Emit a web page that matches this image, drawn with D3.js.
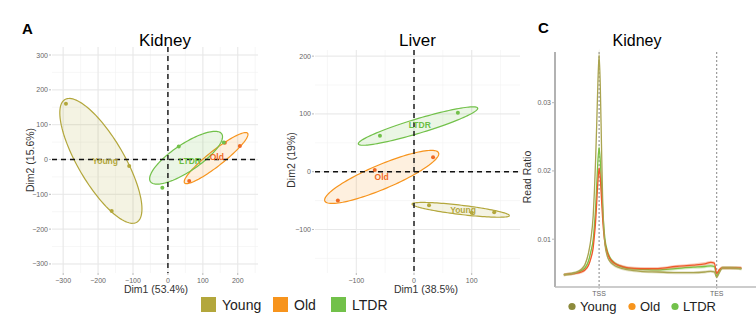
<!DOCTYPE html>
<meta charset="utf-8">
<style>
body { margin: 0; background: #fff; }
svg { font-family: "Liberation Sans", Arial, sans-serif; }
.grid-major { stroke: #e6e6e6; stroke-width: 0.9px; }
.grid-minor { stroke: #f1f1f1; stroke-width: 0.6px; }
.tick-lab { font-size: 7px; fill: #666; }
.ax-title { font-size: 10.5px; fill: #333; }
.zero { stroke: #111; stroke-width: 1.4px; stroke-dasharray: 5,4; }
</style>
<body>
<script src="https://cdn.jsdelivr.net/npm/d3@7"></script>
<script>
// groups and colours
var groups = ["Young", "Old", "LTDR"];
var pcaColors = { Young: "#b3a73c", Old: "#f7941d", LTDR: "#72c14a" };
var labelColors = { Young: "#b3a73c", Old: "#f06a24", LTDR: "#6cbf44" };

// PCA sample coordinates (Dim1, Dim2)
var kidneyYoung = [[-292, 160], [-111, -19], [-161, -148]];
var kidneyOld = [[163, 48], [206, 39], [61, -62]];
var kidneyLTDR = [[31, 37], [-16, -81], [160, 49]];
var liverYoung = [[26, -58], [100, -71], [139, -70]];
var liverOld = [[-68, 3], [-132, -50], [33, 25]];
var liverLTDR = [[-59, 62], [76, 102]];

// label positions (group centroids)
var kidneyLabels = { Young: [-180, -4], Old: [140, 8], LTDR: [63, -4] };
var liverLabels = { Young: [85, -66], Old: [-56, -9], LTDR: [10, 80] };

// ellipses: centre x, centre y, semi-axis a, semi-axis b, angle (deg)
var kidneyEll = { Young: [-192, -4, 204, 66, -59.7], Old: [138, 4, 115, 22, 38.3], LTDR: [52, 5, 123, 39, 33.9] };
var liverEll = { Young: [81, -66, 85, 8, -6.8], Old: [-56, -9, 107, 21, 22.9], LTDR: [7, 79, 108, 12.5, 16.7] };

var kidneyXTicks = [-300, -200, -100, 0, 100, 200];
var kidneyYTicks = [-300, -200, -100, 0, 100, 200, 300];
var liverXTicks = [-100, 0, 100];
var liverYTicks = [-100, 0, 100, 200];

// metagene profile (TSS = 0, TES = 100)
var profilePos = [-30,-25,-20,-15,-12,-9,-7,-5,-4,-3,-2,-1,0,1,2,3,4,5,7,9,12,16,20,25,35,50,65,80,90,95,98,100,102,105,112,121];
var profileYoung = [0.0048,0.0049,0.0051,0.0056,0.0063,0.0080,0.0100,0.0135,0.0170,0.0215,0.0270,0.0330,0.0370,0.0325,0.0240,0.0160,0.0115,0.0092,0.0075,0.0068,0.0063,0.0059,0.0057,0.0055,0.0053,0.0052,0.0051,0.0051,0.0052,0.0053,0.0052,0.0044,0.0050,0.0058,0.0058,0.0057];
var profileOld = [0.0048,0.0049,0.0050,0.0052,0.0055,0.0062,0.0072,0.0088,0.0105,0.0125,0.0155,0.0185,0.0204,0.0190,0.0160,0.0130,0.0108,0.0094,0.0080,0.0072,0.0066,0.0062,0.0060,0.0058,0.0057,0.0057,0.0060,0.0062,0.0064,0.0066,0.0065,0.0050,0.0055,0.0058,0.0058,0.0058];
var profileLTDR = [0.0048,0.0049,0.0051,0.0054,0.0058,0.0068,0.0082,0.0100,0.0120,0.0145,0.0180,0.0215,0.0234,0.0215,0.0180,0.0145,0.0118,0.0100,0.0083,0.0074,0.0067,0.0062,0.0059,0.0057,0.0056,0.0055,0.0057,0.0059,0.0060,0.0061,0.0060,0.0046,0.0053,0.0058,0.0058,0.0057];
var profileYTicks = [0.01, 0.02, 0.03];
var profileMarks = [[0, "TSS"], [100, "TES"]];
var lineColors = { Young: "#aaa450", Old: "#ef5a2a", LTDR: "#7cc242" };
var dotColors = { Young: "#8c8a3c", Old: "#f7941d", LTDR: "#72c14a" };

var svg = d3.select("body").append("svg")
    .attr("width", 756)
    .attr("height", 334);

// panel letters
svg.append("text").attr("x", 22).attr("y", 34).style("font-size", "15px").style("font-weight", "bold").text("A");
svg.append("text").attr("x", 538).attr("y", 33).style("font-size", "15px").style("font-weight", "bold").text("C");

function pcaPanel(opt) {
    var x = d3.scaleLinear().domain(opt.xDom).range([opt.left, opt.right]);
    var y = d3.scaleLinear().domain(opt.yDom).range([opt.bottom, opt.top]);
    var g = svg.append("g");

    // minor grid
    var step = opt.xTicks[1] - opt.xTicks[0];
    var xm = d3.range(Math.ceil(opt.xDom[0] / (step / 2)) * step / 2, opt.xDom[1], step / 2);
    var ym = d3.range(Math.ceil(opt.yDom[0] / (step / 2)) * step / 2, opt.yDom[1], step / 2);
    g.selectAll(".vm").data(xm).enter().append("line").attr("class", "grid-minor")
        .attr("x1", x).attr("x2", x).attr("y1", opt.top).attr("y2", opt.bottom);
    g.selectAll(".hm").data(ym).enter().append("line").attr("class", "grid-minor")
        .attr("y1", y).attr("y2", y).attr("x1", opt.left).attr("x2", opt.right);
    g.selectAll(".vg").data(opt.xTicks).enter().append("line").attr("class", "grid-major")
        .attr("x1", x).attr("x2", x).attr("y1", opt.top).attr("y2", opt.bottom);
    g.selectAll(".hg").data(opt.yTicks).enter().append("line").attr("class", "grid-major")
        .attr("y1", y).attr("y2", y).attr("x1", opt.left).attr("x2", opt.right);

    // ticks
    g.selectAll(".xt").data(opt.xTicks).enter().append("text").attr("class", "tick-lab")
        .attr("x", x).attr("y", opt.bottom + 10).attr("text-anchor", "middle")
        .text(function(d) { return d < 0 ? "\u2212" + (-d) : d; });
    g.selectAll(".xtm").data(opt.xTicks).enter().append("line")
        .attr("x1", x).attr("x2", x).attr("y1", opt.bottom).attr("y2", opt.bottom + 2)
        .attr("stroke", "#888").attr("stroke-width", 0.6);
    g.selectAll(".yt").data(opt.yTicks).enter().append("text").attr("class", "tick-lab")
        .attr("x", opt.left - 4).attr("y", function(d) { return y(d) + 2.5; }).attr("text-anchor", "end")
        .text(function(d) { return d < 0 ? "\u2212" + (-d) : d; });
    g.selectAll(".ytm").data(opt.yTicks).enter().append("line")
        .attr("y1", y).attr("y2", y).attr("x1", opt.left - 3).attr("x2", opt.left - 1)
        .attr("stroke", "#888").attr("stroke-width", 0.6);

    // titles
    g.append("text").attr("x", (opt.left + opt.right) / 2 + opt.titleDx).attr("y", 46)
        .attr("text-anchor", "middle").style("font-size", "17px").text(opt.title);
    g.append("text").attr("class", "ax-title").attr("x", opt.xTitleX).attr("y", 293)
        .attr("text-anchor", "middle").text(opt.xTitle);
    g.append("text").attr("class", "ax-title")
        .attr("transform", "translate(" + opt.yTitleX + ",160) rotate(-90)")
        .attr("text-anchor", "middle").text(opt.yTitle);

    // ellipses
    groups.forEach(function(k) {
        var e = opt.ell[k], a = e[4] * Math.PI / 180;
        var pts = d3.range(0, 2 * Math.PI + 0.01, Math.PI / 60).map(function(t) {
            var u = e[2] * Math.cos(t), v = e[3] * Math.sin(t);
            return [e[0] + u * Math.cos(a) - v * Math.sin(a), e[1] + u * Math.sin(a) + v * Math.cos(a)];
        });
        g.append("path").datum(pts)
            .attr("d", d3.line().x(function(d) { return x(d[0]); }).y(function(d) { return y(d[1]); }))
            .attr("fill", pcaColors[k]).attr("fill-opacity", 0.14)
            .attr("stroke", pcaColors[k]).attr("stroke-width", 1.2);
    });

    // zero lines
    g.append("line").attr("class", "zero").attr("x1", opt.left).attr("x2", opt.right).attr("y1", y(0)).attr("y2", y(0));
    g.append("line").attr("class", "zero").attr("x1", x(0)).attr("x2", x(0)).attr("y1", opt.top).attr("y2", opt.bottom);

    groups.forEach(function(k) {
        g.selectAll(null).data(opt.pts[k]).enter().append("circle")
            .attr("cx", function(d) { return x(d[0]); }).attr("cy", function(d) { return y(d[1]); })
            .attr("r", 2).attr("fill", k === "Old" ? labelColors.Old : pcaColors[k]);
        var l = opt.labels[k];
        g.append("text").attr("x", x(l[0])).attr("y", y(l[1]) + 3)
            .attr("text-anchor", "middle").style("font-size", "8.5px").style("font-weight", "bold")
            .attr("fill", labelColors[k]).text(k);
    });
}

pcaPanel({
    title: "Kidney", titleDx: 10, left: 52, right: 258, top: 47, bottom: 273,
    xDom: [-332, 258], yDom: [-326, 323], xTicks: kidneyXTicks, yTicks: kidneyYTicks,
    xTitle: "Dim1 (53.4%)", xTitleX: 156, yTitle: "Dim2 (15.6%)", yTitleX: 34,
    ell: kidneyEll, labels: kidneyLabels,
    pts: { Young: kidneyYoung, Old: kidneyOld, LTDR: kidneyLTDR }
});
pcaPanel({
    title: "Liver", titleDx: 0, left: 315, right: 520, top: 50, bottom: 273,
    xDom: [-171.6, 183.7], yDom: [-175.3, 210.6], xTicks: liverXTicks, yTicks: liverYTicks,
    xTitle: "Dim1 (38.5%)", xTitleX: 426, yTitle: "Dim2 (19%)", yTitleX: 295,
    ell: liverEll, labels: liverLabels,
    pts: { Young: liverYoung, Old: liverOld, LTDR: liverLTDR }
});

// legend for A
var legA = svg.append("g");
[[201, "Young"], [273, "Old"], [331, "LTDR"]].forEach(function(d) {
    legA.append("rect").attr("x", d[0]).attr("y", 297).attr("width", 15).attr("height", 15).attr("fill", pcaColors[d[1]]);
    legA.append("text").attr("x", d[0] + 21).attr("y", 309.5).style("font-size", "14px").attr("fill", "#222").text(d[1]);
});

// panel C: profile
var px = d3.scaleLinear().domain([-37.5, 130]).range([555, 752]);
var py = d3.scaleLinear().domain([0.003, 0.03742]).range([287, 52]);
var gc = svg.append("g");
gc.append("text").attr("x", 637).attr("y", 46).attr("text-anchor", "middle").style("font-size", "16px").text("Kidney");

profileMarks.forEach(function(m) {
    gc.append("line").attr("x1", px(m[0])).attr("x2", px(m[0])).attr("y1", 52).attr("y2", 287)
        .attr("stroke", "#777").attr("stroke-width", 0.9).attr("stroke-dasharray", "2,2");
    gc.append("text").attr("class", "tick-lab").attr("x", px(m[0])).attr("y", 296).attr("text-anchor", "middle").text(m[1]);
    gc.append("line").attr("x1", px(m[0])).attr("x2", px(m[0])).attr("y1", 287).attr("y2", 289).attr("stroke", "#888").attr("stroke-width", 0.6);
});

var profiles = { Young: profileYoung, Old: profileOld, LTDR: profileLTDR };
["LTDR", "Old", "Young"].forEach(function(k) {
    var vals = profiles[k];
    var dat = profilePos.map(function(p, i) { return [p, vals[i]]; });
    gc.append("path").datum(dat)
        .attr("d", d3.area().curve(d3.curveMonotoneX)
            .x(function(d) { return px(d[0]); })
            .y0(function(d) { return py(d[1] - 0.00012 - d[1] * 0.02); })
            .y1(function(d) { return py(d[1] + 0.00012 + d[1] * 0.02); }))
        .attr("fill", lineColors[k]).attr("fill-opacity", 0.3);
    gc.append("path").datum(dat)
        .attr("d", d3.line().curve(d3.curveMonotoneX).x(function(d) { return px(d[0]); }).y(function(d) { return py(d[1]); }))
        .attr("fill", "none").attr("stroke", lineColors[k]).attr("stroke-width", 1.3);
});

gc.append("line").attr("x1", 555).attr("x2", 555).attr("y1", 52).attr("y2", 287).attr("stroke", "#999").attr("stroke-width", 1.5);
gc.append("line").attr("x1", 555).attr("x2", 756).attr("y1", 287).attr("y2", 287).attr("stroke", "#bbb").attr("stroke-width", 1.5);
profileYTicks.forEach(function(t) {
    gc.append("text").attr("class", "tick-lab").attr("x", 551).attr("y", py(t) + 2.5).attr("text-anchor", "end").text(t.toFixed(2));
    gc.append("line").attr("x1", 552).attr("x2", 554).attr("y1", py(t)).attr("y2", py(t)).attr("stroke", "#888").attr("stroke-width", 0.6);
});
gc.append("text").attr("class", "ax-title")
    .attr("transform", "translate(531,177) rotate(-90)").attr("text-anchor", "middle").text("Read Ratio");

[[572, "Young"], [632, "Old"], [675, "LTDR"]].forEach(function(d) {
    gc.append("circle").attr("cx", d[0]).attr("cy", 306.5).attr("r", 3.6).attr("fill", dotColors[d[1]]);
    gc.append("text").attr("x", d[0] + 8).attr("y", 311).style("font-size", "13px").attr("fill", "#222").text(d[1]);
});
</script>
</body>
